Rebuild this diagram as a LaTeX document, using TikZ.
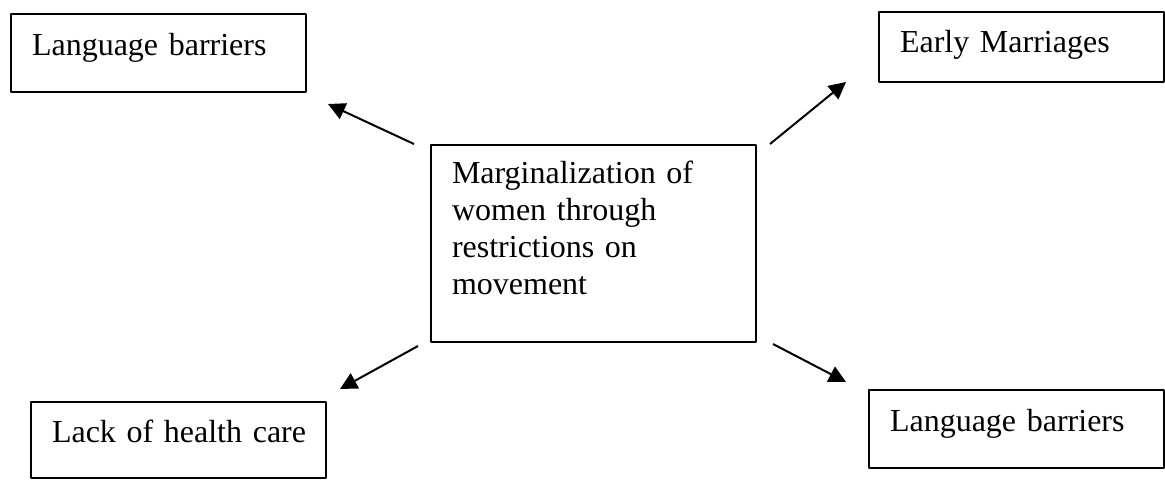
\documentclass[tikz,border=0pt]{standalone}
\usepackage{fontspec}
\setmainfont{Liberation Serif}
\usetikzlibrary{arrows.meta}

\begin{document}
\begin{tikzpicture}[x=1pt,y=-1pt,line join=round,
	box/.style={draw,line width=2pt,anchor=north west,align=left,inner xsep=21pt,inner ysep=0pt,text height=22pt,text depth=18pt,font=\fontsize{32}{37}\selectfont},
	arr/.style={-{Triangle[length=17pt,width=17pt]},line width=2pt}]
	\useasboundingbox (0,0) rectangle (1165,480);

	\node[box,text width=283pt,minimum height=197pt,text height=20pt,text depth=141pt] (marg) at (430,144) {Marginalization of\\women through\\restrictions on\\movement};

	\node[box,text width=253pt,minimum height=78pt] (lang1) at (10,13) {Language barriers};
	\node[box,text width=243pt,minimum height=70pt,text height=25pt,text depth=15pt] (early) at (878,11) {Early Marriages};
	\node[box,text width=253pt,minimum height=76pt] (health) at (30,401) {Lack~of~health~care};
	\node[box,text width=253pt,minimum height=78pt] (lang2) at (868,389) {Language barriers};

	\draw[arr] ([xshift=-16pt]marg.north west) -- ([xshift=21pt,yshift=-11pt]lang1.south east);
	\draw[arr] ([xshift=13pt]marg.north east) -- ([xshift=-32pt,yshift=1pt]early.south west);
	\draw[arr] ([xshift=-12pt,yshift=-3pt]marg.south west) -- ([xshift=13pt,yshift=12pt]health.north east);
	\draw[arr] ([xshift=16pt,yshift=-1pt]marg.south east) -- ([xshift=-22pt,yshift=7pt]lang2.north west);
\end{tikzpicture}
\end{document}
